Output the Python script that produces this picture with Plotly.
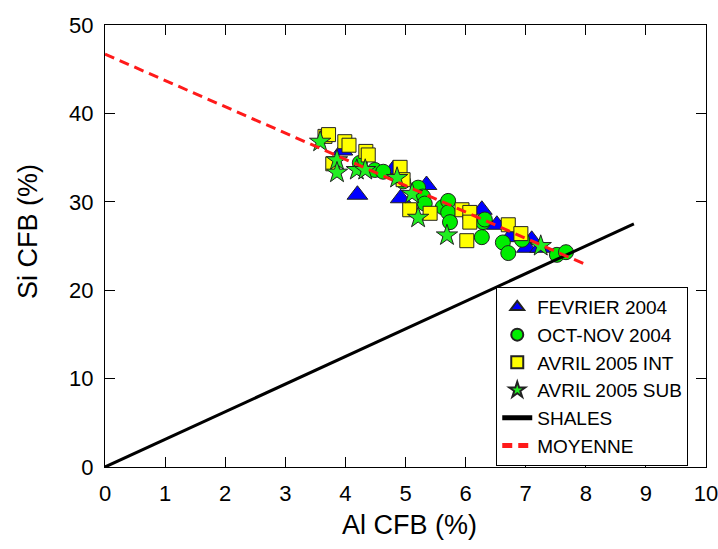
import plotly.graph_objects as go

# FEVRIER 2004
fev_x = [3.95, 4.2, 4.8, 4.92, 5.35, 6.27, 6.35, 6.52, 6.74, 7.1, 7.02, 7.24]
fev_y = [35.8, 30.8, 33.7, 30.4, 31.9, 29.1, 27.7, 27.4, 26.0, 25.7, 24.8, 24.8]

# OCT-NOV 2004
oct_x = [4.24, 4.49, 4.63, 4.96, 5.21, 5.29, 5.32, 5.62, 5.71, 5.71, 5.74,
         6.29, 6.32, 6.27, 6.62, 6.71, 6.94, 7.52, 7.67]
oct_y = [34.4, 33.6, 33.4, 32.3, 31.6, 30.6, 29.8, 29.4, 30.1, 28.8, 27.7,
         27.7, 28.0, 26.0, 25.4, 24.2, 25.7, 24.0, 24.3]

# AVRIL 2005 INT
int_x = [3.66, 3.72, 3.99, 4.06, 4.34, 4.38, 3.79, 4.91, 4.96, 5.07, 5.41,
         5.94, 6.07, 6.07, 6.02, 6.71, 6.92]
int_y = [37.4, 37.6, 36.8, 36.4, 35.7, 35.3, 34.3, 33.9, 32.5, 29.1, 28.7,
         29.1, 28.8, 27.7, 25.6, 27.4, 26.4]

# AVRIL 2005 SUB
sub_x = [3.58, 3.86, 3.86, 4.19, 4.33, 4.86, 5.11, 5.21, 5.69, 7.25]
sub_y = [36.8, 34.7, 33.3, 33.6, 33.6, 32.7, 30.9, 28.2, 26.2, 25.0]

# Reference lines
shales_x = [0, 8.8]
shales_y = [0, 27.5]
moy_x = [0, 8.0]
moy_y = [46.7, 22.9]

x_ticks = list(range(0, 11))
y_ticks = [0, 10, 20, 30, 40, 50]

FONT = "Liberation Sans, Arial, sans-serif"
edge = dict(color="#222222", width=1)

fig = go.Figure()
fig.add_trace(go.Scatter(x=fev_x, y=fev_y, mode="markers", name="FEVRIER 2004",
                         legendgroup="a",
                         marker=dict(symbol="triangle-up", size=18, color="#0000ff", line=edge)))
fig.add_trace(go.Scatter(x=oct_x, y=oct_y, mode="markers", name="OCT-NOV 2004",
                         legendgroup="b",
                         marker=dict(symbol="circle", size=15, color="#00ee00", line=edge)))
fig.add_trace(go.Scatter(x=int_x, y=int_y, mode="markers", name="AVRIL 2005 INT",
                         legendgroup="c",
                         marker=dict(symbol="square", size=14, color="#ffff00", line=edge)))
fig.add_trace(go.Scatter(x=sub_x, y=sub_y, mode="markers", name="AVRIL 2005 SUB",
                         legendgroup="d",
                         marker=dict(symbol="star", size=16, color="#22ee22", line=edge)))
fig.add_trace(go.Scatter(x=shales_x, y=shales_y, mode="lines", name="SHALES",
                         legendgroup="e",
                         line=dict(color="black", width=3)))
fig.add_trace(go.Scatter(x=moy_x, y=moy_y, mode="lines", name="MOYENNE",
                         legendgroup="f",
                         line=dict(color="#ff1a1a", width=3, dash="10px,6px")))

axis_common = dict(
    showline=True, linecolor="black", linewidth=1, mirror="ticks",
    ticks="inside", ticklen=10, tickcolor="black", tickwidth=1,
    showgrid=False, zeroline=False, automargin=False,
    ticklabeloverflow="allow",
    tickfont=dict(family=FONT, size=22, color="black"),
)

fig.update_layout(
    width=718, height=549,
    margin=dict(l=105, r=12, t=25, b=82),
    plot_bgcolor="white", paper_bgcolor="white",
    font=dict(family=FONT, color="black"),
    xaxis=dict(range=[0, 10], tickvals=x_ticks, ticklabelstandoff=7, **axis_common),
    yaxis=dict(range=[0, 50], tickvals=y_ticks, ticklabelstandoff=6, **axis_common),
    legend=dict(x=0.651, y=0.407, xanchor="left", yanchor="top",
                bordercolor="black", borderwidth=1, bgcolor="white",
                font=dict(family=FONT, size=19, color="black"),
                traceorder="grouped", tracegroupgap=0, itemwidth=30,
                itemsizing="constant"),
    showlegend=True,
    annotations=[
        dict(text="Al CFB (%)", xref="paper", yref="paper", x=0.5, y=0,
             xanchor="center", yanchor="middle", xshift=4, yshift=-58,
             showarrow=False, font=dict(family=FONT, size=27, color="black")),
        dict(text="Si CFB (%)", xref="paper", yref="paper", x=0, y=0.5,
             xanchor="center", yanchor="middle", xshift=-77, yshift=14,
             textangle=-90, showarrow=False,
             font=dict(family=FONT, size=27, color="black")),
    ],
)

fig.write_html("out.html",
               config={"displayModeBar": False},
               post_script="document.body.style.margin='0px';document.body.style.overflow='hidden';")
